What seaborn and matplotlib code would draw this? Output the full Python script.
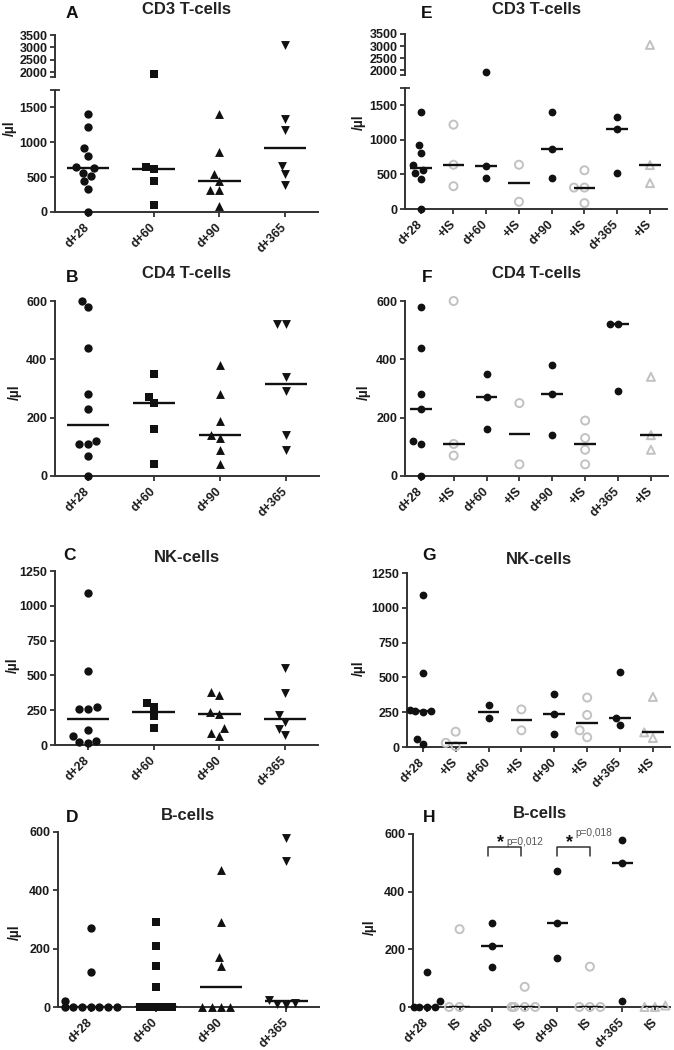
import numpy as np
import pandas as pd
import matplotlib
matplotlib.use("Agg")
import matplotlib.pyplot as plt
from matplotlib.transforms import Bbox, TransformedBbox
import seaborn as sns
import warnings
warnings.filterwarnings("ignore")

# ---------------- categories / labels ----------------
time_points = ["d+28", "d+60", "d+90", "d+365"]
right_keys = ["d+28", "d+28 IS", "d+60", "d+60 IS", "d+90", "d+90 IS", "d+365", "d+365 IS"]
right_labels_plus = ["d+28", "+IS", "d+60", "+IS", "d+90", "+IS", "d+365", "+IS"]
right_labels_is = ["d+28", "IS", "d+60", "IS", "d+90", "IS", "d+365", "IS"]

# ---------------- data (cells / µl) ----------------
# A: CD3 T-cells, all patients
cd3_all = [
    [1400, 1220, 920, 810, 640, 630, 560, 520, 440, 330, 0],
    [1920, 640, 620, 445, 105],
    [1400, 865, 550, 450, 310, 310, 80],
    [3100, 1330, 1170, 660, 540, 385],
]
# E: CD3 T-cells, without / with immunosuppression
cd3_noIS = [[1400, 920, 810, 630, 560, 520, 440, 0], [1920, 620, 445], [1400, 870, 455], [1330, 1160, 525]]
cd3_IS = [[1220, 640, 330], [640, 105], [560, 310, 310, 85], [3050, 635, 375]]

# B: CD4 T-cells
cd4_all = [
    [600, 580, 440, 280, 230, 120, 110, 110, 70, 0],
    [350, 270, 250, 160, 40],
    [380, 280, 190, 140, 130, 90, 40],
    [520, 520, 340, 290, 140, 90],
]
# F
cd4_noIS = [[580, 440, 280, 230, 120, 110, 0], [350, 270, 160], [380, 280, 140], [520, 520, 290]]
cd4_IS = [[600, 110, 70], [250, 40], [190, 130, 90, 40], [340, 140, 90]]

# C: NK-cells
nk_all = [
    [1090, 530, 270, 260, 260, 108, 65, 29, 22, 14],
    [300, 270, 210, 120],
    [380, 360, 235, 225, 120, 85, 65],
    [550, 375, 215, 165, 115, 70],
]
# G
nk_noIS = [[1090, 530, 268, 262, 258, 255, 60, 20], [300, 205], [380, 240, 90], [540, 210, 160]]
nk_IS = [[110, 30, 5], [270, 120], [355, 230, 120, 70], [360, 105, 65]]

# D: B-cells
b_all = [
    [270, 120, 20, 0, 0, 0, 0, 0, 0, 0],
    [290, 210, 140, 70, 0, 0, 0, 0, 0],
    [470, 290, 170, 140, 0, 0, 0, 0],
    [580, 500, 25, 15, 10, 8],
]
# H
b_noIS = [[120, 20, 0, 0, 0, 0], [290, 210, 140], [470, 290, 170], [580, 500, 20]]
b_IS = [[270, 0, 0], [70, 0, 0, 0, 0], [140, 0, 0, 0], [5, 0, 0]]

# significance annotations for H
sig_pairs = [(1.88, 2.9), (4.0, 5.0)]
sig_labels = ["p=0,012", "p=0,018"]

# ---------------- style ----------------
sns.set_theme(style="ticks")
plt.rcParams["font.family"] = ["Liberation Sans", "DejaVu Sans"]
plt.rcParams["font.weight"] = "bold"
plt.rcParams["axes.labelweight"] = "bold"

BLACK = "#111111"
GRAY = "#c2c2c2"
SPINE = "#333333"
W, H = 674, 1050
fig = plt.figure(figsize=(W / 100, H / 100), dpi=100)
fig.patch.set_facecolor("white")


def add_ax(l, t, r, b):
    return fig.add_axes([l / W, 1 - b / H, (r - l) / W, (b - t) / H])


def style_ax(ax, bottom=True):
    for s in ["top", "right"]:
        ax.spines[s].set_visible(False)
    for s in ["left", "bottom"]:
        ax.spines[s].set_color(SPINE)
        ax.spines[s].set_linewidth(1.4)
    ax.tick_params(axis="both", direction="out", length=3.5, width=1.3, color=SPINE,
                   labelsize=9, labelcolor="#1a1a1a", pad=2)
    if not bottom:
        ax.spines["bottom"].set_visible(False)
        ax.tick_params(axis="x", bottom=False, labelbottom=False)
    ax.set_xlabel("")
    ax.set_ylabel("")
    ax.grid(False)
    ax.set_facecolor("none")


def plot_group(ax, key, vals, order, marker, size, hollow):
    if len(vals) == 0:
        return
    df = pd.DataFrame({"group": [key] * len(vals), "value": np.asarray(vals, dtype=float)})
    n0 = len(ax.collections)
    sns.swarmplot(data=df, x="group", y="value", order=order, marker=marker, size=size,
                  color=BLACK, linewidth=0, ax=ax, warn_thresh=1.0)
    clip = TransformedBbox(Bbox.from_extents(-0.05, -0.1, 1.05, 1.06), ax.transAxes)
    for c in ax.collections[n0:]:
        if hollow:
            c.set_facecolor("none")
            c.set_edgecolor(GRAY)
            c.set_linewidth(1.4)
        c.set_clip_on(True)
        c.set_clip_path(None)
        c.set_clip_box(clip)
        c.set_zorder(3)


def draw_medians(ax, keys, values, order, width):
    df = pd.DataFrame({"group": np.repeat(keys, [len(v) for v in values]),
                       "value": np.concatenate([np.asarray(v, dtype=float) for v in values])})
    sns.boxplot(data=df, x="group", y="value", order=order, width=width, whis=0,
                showbox=False, showcaps=False, showfliers=False,
                medianprops=dict(color=BLACK, linewidth=1.7, solid_capstyle="butt"),
                whiskerprops=dict(visible=False), ax=ax)
    for ln in ax.lines:
        ln.set_zorder(4)


def left_specs(values):
    markers = ["o", "s", "^", "v"]
    sizes = [6.0, 5.6, 6.4, 6.4]
    return [(k, v, m, s, False) for k, v, m, s in zip(time_points, values, markers, sizes)]


def right_specs(noIS, IS):
    specs = []
    for i, tp in enumerate(time_points):
        specs.append((tp, noIS[i], "o", 5.6, False))
        specs.append((tp + " IS", IS[i], "^" if i == 3 else "o", 5.8, True))
    return specs


def right_values(noIS, IS):
    vals = []
    for a, b in zip(noIS, IS):
        vals += [a, b]
    return vals


def finish_x(ax, labels, xlim):
    ax.set_xlim(*xlim)
    ax.set_xticks(range(len(labels)))
    ax.set_xticklabels(labels, rotation=45, ha="right", va="center", rotation_mode="anchor")
    ax.tick_params(axis="x", pad=6)


def simple_panel(box, order, specs, med_vals, labels, xlim, ylim, yticks, width):
    ax = add_ax(*box)
    for key, vals, m, s, hollow in specs:
        plot_group(ax, key, vals, order, m, s, hollow)
    draw_medians(ax, order, med_vals, order, width)
    style_ax(ax)
    ax.set_ylim(*ylim)
    ax.set_yticks(yticks)
    finish_x(ax, labels, xlim)
    return ax


def broken_panel(lbox, ubox, order, specs, med_vals, labels, xlim, width,
                 low_lim=(0, 1750), up_lim=(1800, 3500)):
    axl = add_ax(*lbox)
    axu = add_ax(*ubox)
    for key, vals, m, s, hollow in specs:
        v = np.asarray(vals, dtype=float)
        plot_group(axl, key, v[v <= low_lim[1]], order, m, s, hollow)
        plot_group(axu, key, v[v >= up_lim[0]], order, m, s, hollow)
    draw_medians(axl, order, med_vals, order, width)
    style_ax(axl)
    style_ax(axu, bottom=False)
    axl.set_ylim(*low_lim)
    axl.set_yticks([0, 500, 1000, 1500])
    axl.set_yticks([low_lim[1]], minor=True)
    axl.tick_params(axis="y", which="minor", direction="inout", length=7, width=1.3, color=SPINE)
    axu.set_ylim(*up_lim)
    axu.set_yticks([2000, 2500, 3000, 3500])
    axu.set_yticks([up_lim[0]], minor=True)
    axu.tick_params(axis="y", which="minor", direction="out", length=3.5, width=1.3, color=SPINE)
    axu.set_xlim(*xlim)
    finish_x(axl, labels, xlim)
    return axl, axu


def ylabel(ax, box, px, py):
    l, t, r, b = box
    ax.set_ylabel("/µl", fontsize=10, fontweight="bold", color="#1a1a1a")
    ax.yaxis.set_label_coords((px + 7 - l) / (r - l), (b - py) / (b - t))


def titles(letter, lx, ly, title, tx, ty):
    fig.text(lx / W, 1 - ly / H, letter, ha="center", va="center", fontsize=12.5, fontweight="bold", color="#111")
    fig.text(tx / W, 1 - ty / H, title, ha="center", va="center", fontsize=12, fontweight="bold", color="#222")


LX = (-0.5, 3.5)
RX = (-0.48, 7.52)

# ---- A ----
boxA = (55, 90, 318, 212)
axA, axAu = broken_panel(boxA, (55, 35, 318, 77), time_points, left_specs(cd3_all), cd3_all,
                         time_points, LX, 0.65)
ylabel(axA, boxA, 10, 128)
titles("A", 72, 13, "CD3 T-cells", 187, 10)

# ---- E ----
boxE = (405, 88, 667, 209)
axE, axEu = broken_panel(boxE, (405, 34, 667, 75), right_keys, right_specs(cd3_noIS, cd3_IS),
                         right_values(cd3_noIS, cd3_IS), right_labels_plus, RX, 0.66)
ylabel(axE, boxE, 359, 122)
titles("E", 427, 13, "CD3 T-cells", 536, 10)

# ---- B ----
boxB = (55, 301, 319, 476)
axB = simple_panel(boxB, time_points, left_specs(cd4_all), cd4_all, time_points, LX,
                   (0, 600), [0, 200, 400, 600], 0.65)
ylabel(axB, boxB, 15, 392)
titles("B", 72, 277, "CD4 T-cells", 187, 273)

# ---- F ----
boxF = (405, 301, 668, 476)
axF = simple_panel(boxF, right_keys, right_specs(cd4_noIS, cd4_IS), right_values(cd4_noIS, cd4_IS),
                   right_labels_plus, RX, (0, 600), [0, 200, 400, 600], 0.66)
ylabel(axF, boxF, 364, 392)
titles("F", 427, 277, "CD4 T-cells", 537, 273)

# ---- C ----
boxC = (55, 571, 318, 745)
axC = simple_panel(boxC, time_points, left_specs(nk_all), nk_all, time_points, LX,
                   (0, 1250), [0, 250, 500, 750, 1000, 1250], 0.65)
ylabel(axC, boxC, 13, 665)
titles("C", 70, 555, "NK-cells", 187, 558)

# ---- G ----
boxG = (407, 573, 670, 747)
axG = simple_panel(boxG, right_keys, right_specs(nk_noIS, nk_IS), right_values(nk_noIS, nk_IS),
                   right_labels_plus, RX, (0, 1250), [0, 250, 500, 750, 1000, 1250], 0.66)
ylabel(axG, boxG, 359, 668)
titles("G", 429, 555, "NK-cells", 539, 560)

# ---- D ----
boxD = (58, 832, 319, 1007)
axD = simple_panel(boxD, time_points, left_specs(b_all), b_all, time_points, LX,
                   (0, 600), [0, 200, 400, 600], 0.65)
ylabel(axD, boxD, 15, 932)
titles("D", 72, 817, "B-cells", 188, 815)

# ---- H ----
boxH = (413, 834, 670, 1007)
axH = simple_panel(boxH, right_keys, right_specs(b_noIS, b_IS), right_values(b_noIS, b_IS),
                   right_labels_is, (-0.43, 7.46), (0, 600), [0, 200, 400, 600], 0.66)
ylabel(axH, boxH, 370, 927)
titles("H", 429, 817, "B-cells", 540, 813)

# significance brackets in H
for (x0, x1), lab, sub in zip(sig_pairs, sig_labels, [True, False]):
    axH.plot([x0, x0, x1, x1], [525, 555, 555, 525], color="#333333", lw=1.1, clip_on=False, zorder=5)
    xm = (x0 + x1) / 2
    axH.text(xm - 0.12, 570, "*", ha="center", va="center", fontsize=13, fontweight="bold",
             color="#111", clip_on=False)
    axH.text(xm + 0.05, 573 if sub else 603, lab, ha="left", va="center", fontsize=7.3,
             fontweight="normal", color="#555555", clip_on=False)

fig.savefig("out.png", dpi=100, facecolor="white")
